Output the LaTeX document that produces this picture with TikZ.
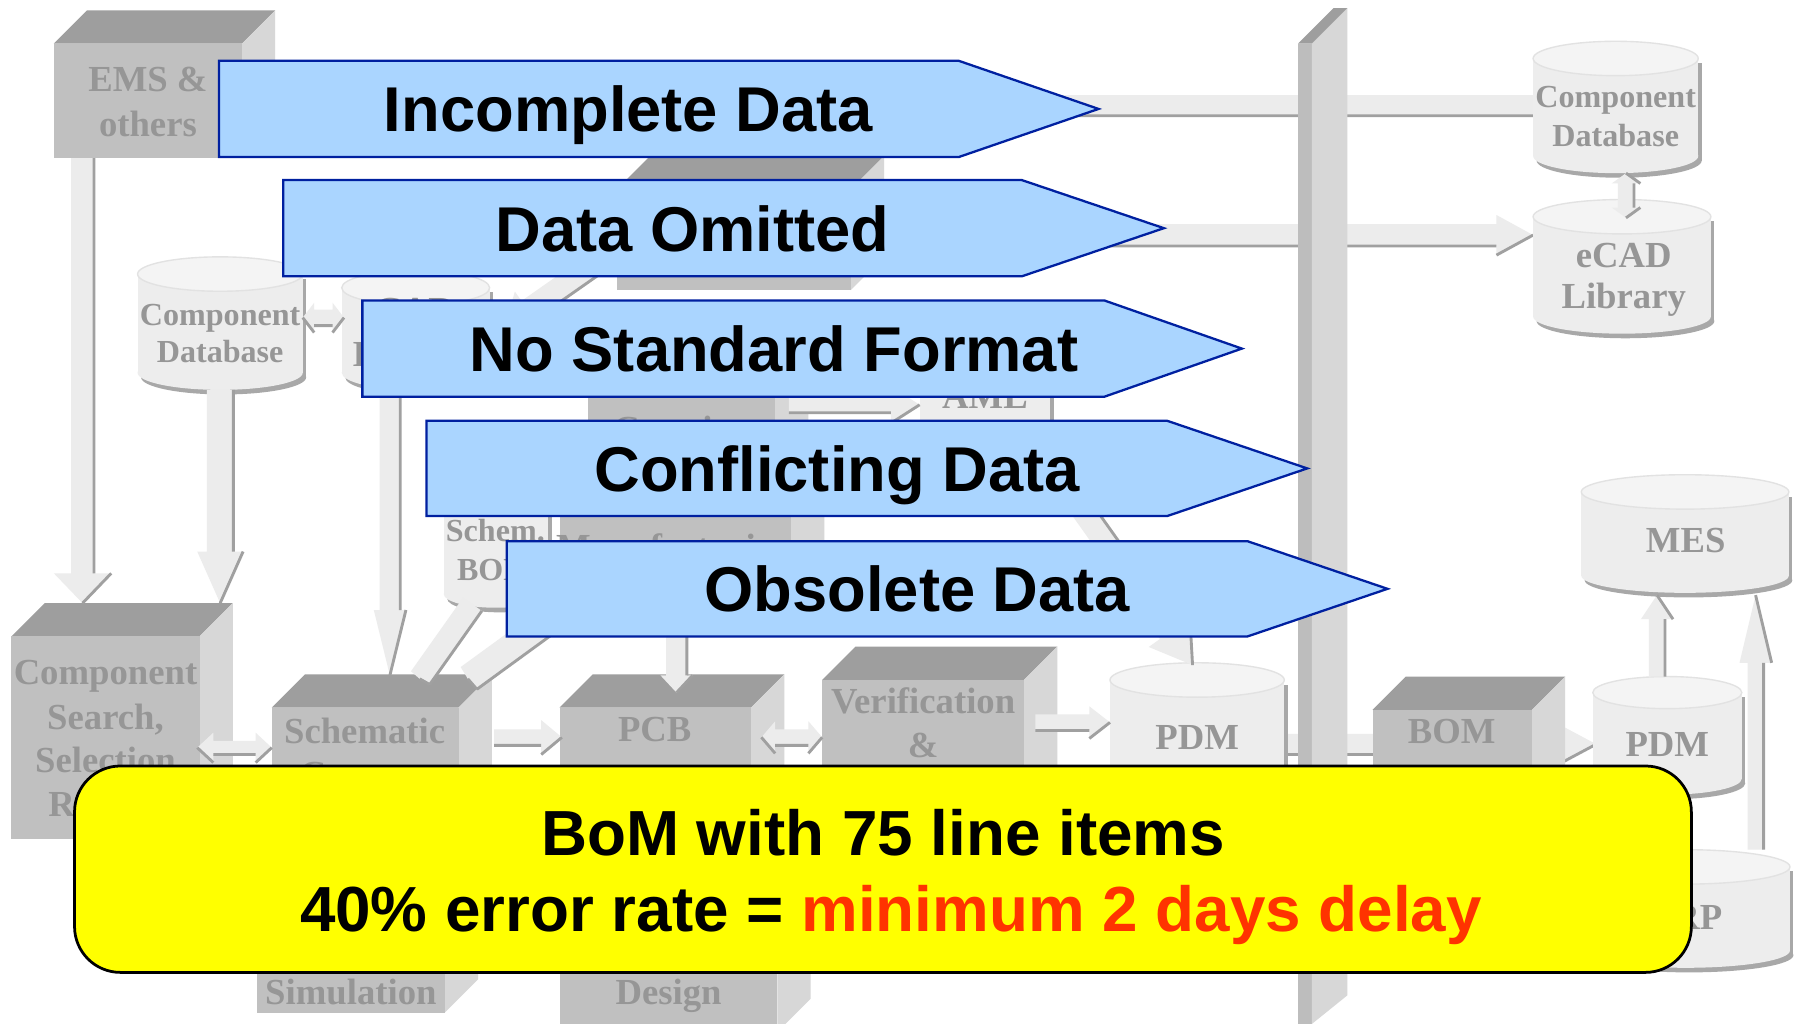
\documentclass[tikz,border=0pt]{standalone}
\usepackage{fontspec}
\setmainfont{Liberation Serif}
\newfontfamily\arialfont{Liberation Sans}
\usetikzlibrary{calc}

\definecolor{bfrontc}{RGB}{192,192,192}
\definecolor{btopc}{RGB}{158,158,158}
\definecolor{bsidec}{RGB}{215,215,215}
\definecolor{pilleft}{RGB}{189,189,189}
\definecolor{cylbodyc}{RGB}{237,237,237}
\definecolor{cyltopc}{RGB}{244,244,244}
\definecolor{cyledgec}{RGB}{226,226,226}
\definecolor{cylshadec}{RGB}{168,168,168}
\definecolor{arfillc}{RGB}{236,236,236}
\definecolor{arshadec}{RGB}{160,160,160}
\definecolor{bgtextc}{RGB}{150,150,150}
\definecolor{bluefillc}{RGB}{170,213,255}
\definecolor{bluelinec}{RGB}{0,32,160}
\definecolor{delayred}{RGB}{255,51,0}
\definecolor{noteyellow}{RGB}{255,255,0}

\tikzset{
  boxtop/.style={fill=btopc},
  boxside/.style={fill=bsidec},
  boxfront/.style={fill=bfrontc},
  arfill/.style={fill=arfillc},
  arshade/.style={draw=arshadec, line width=1.25pt},
  bgt/.style={anchor=base, inner sep=0pt, text=bgtextc, font=\bfseries\fontsize{16}{19}\selectfont},
  bgs/.style={anchor=base, inner sep=0pt, text=bgtextc, font=\bfseries\fontsize{14}{16}\selectfont},
  bluearr/.style={fill=bluefillc, draw=bluelinec, line width=1pt, line join=miter},
  bluelabel/.style={anchor=base, inner sep=0pt, font=\arialfont\bfseries\fontsize{27.6}{30}\selectfont},
  notebox/.style={fill=noteyellow, draw=black, line width=1.2pt, rounded corners=20pt, minimum width=705pt, minimum height=90pt, inner sep=0pt},
  notetext/.style={anchor=base, inner sep=0pt, font=\arialfont\bfseries\fontsize{27.8}{30}\selectfont}
}

% 3D box: name, x1, y1 (top), x2, y2 (bottom)
\newcommand{\tdbox}[5]{%
  \fill[boxtop] (#2,#3) -- (#2+29,#3-29) -- (#4+29,#3-29) -- (#4,#3) -- cycle;
  \fill[boxside] (#4,#3) -- (#4+29,#3-29) -- (#4+29,#5-29) -- (#4,#5) -- cycle;
  \fill[boxfront] (#2,#3) rectangle (#4,#5);
  \coordinate (#1) at ({(#2+#4)/2},{(#3+#5)/2});
}

% cylinder: name, x1, x2, ytop, ybot, ry
\newcommand{\tdcyl}[6]{%
  \begin{scope}[shift={(3,4)}]
    \fill[cylshadec] (#2,{#4+#6}) rectangle (#3,{#5-#6});
    \fill[cylshadec] ({(#2+#3)/2},{#5-#6}) ellipse [x radius={(#3-#2)/2}, y radius=#6];
  \end{scope}
  \fill[cylbodyc] (#2,{#4+#6}) rectangle (#3,{#5-#6});
  \fill[cylbodyc] ({(#2+#3)/2},{#5-#6}) ellipse [x radius={(#3-#2)/2}, y radius=#6];
  \filldraw[fill=cyltopc, draw=cyledgec, line width=0.6pt] ({(#2+#3)/2},{#4+#6}) ellipse [x radius={(#3-#2)/2}, y radius=#6];
  \coordinate (#1) at ({(#2+#3)/2},{(#4+#5)/2});
}

% block arrow: start, end, half shaft, half head, head length, shadow side angle, other angle
\newcommand{\barrow}[7]{%
  \coordinate (bs) at (#1);
  \coordinate (be) at (#2);
  \coordinate (bh) at ($(be)!{#5*0.5pt}!(bs)$);
  \fill[arfill] ($(bs)!{#3*0.5pt}!#6:(be)$) -- ($(bh)!{#3*0.5pt}!#6:(be)$) -- ($(bh)!{#4*0.5pt}!#6:(be)$) -- (be) -- ($(bh)!{#4*0.5pt}!#7:(be)$) -- ($(bh)!{#3*0.5pt}!#7:(be)$) -- ($(bs)!{#3*0.5pt}!#7:(be)$) -- cycle;
  \draw[arshade] ($(bs)!{#3*0.5pt}!#6:(be)$) -- ($(bh)!{#3*0.5pt}!#6:(be)$) ($(bh)!{#4*0.5pt}!#6:(be)$) -- (be);
}

% double block arrow
\newcommand{\dbarrow}[7]{%
  \coordinate (da) at (#1);
  \coordinate (db) at (#2);
  \coordinate (dha) at ($(da)!{#5*0.5pt}!(db)$);
  \coordinate (dhb) at ($(db)!{#5*0.5pt}!(da)$);
  \fill[arfill] (da) -- ($(dha)!{#4*0.5pt}!#6:(db)$) -- ($(dha)!{#3*0.5pt}!#6:(db)$) -- ($(dhb)!{#3*0.5pt}!#6:(db)$) -- ($(dhb)!{#4*0.5pt}!#6:(db)$) -- (db) -- ($(dhb)!{#4*0.5pt}!#7:(db)$) -- ($(dhb)!{#3*0.5pt}!#7:(db)$) -- ($(dha)!{#3*0.5pt}!#7:(db)$) -- ($(dha)!{#4*0.5pt}!#7:(db)$) -- cycle;
  \draw[arshade] ($(dha)!{#3*0.5pt}!#6:(db)$) -- ($(dhb)!{#3*0.5pt}!#6:(db)$) ($(dhb)!{#4*0.5pt}!#6:(db)$) -- (db) (da) -- ($(dha)!{#4*0.5pt}!#6:(db)$);
}

% blue pentagon arrow: name, xleft, ytop, ybot, xrect, xtip, textx, text
\newcommand{\bluearrow}[8]{%
  \draw[bluearr] (#2,#3) -- (#5,#3) -- (#6,{(#3+#4)/2}) -- (#5,#4) -- (#2,#4) -- cycle;
  \node[bluelabel] (#1) at (#7,{(#3+#4)/2+20}) {#8};
}

\begin{document}
\begin{tikzpicture}[x=0.5pt,y=-0.5pt]
\useasboundingbox (0,0) rectangle (1568,893);
\clip (0,0) rectangle (1568,893);
\fill[white] (0,0) rectangle (1568,893);

% long bands behind the pillar
\barrow{240,92}{1340,92}{9}{9}{1}{-90}{90}
\barrow{772,205}{1337,205}{9.5}{17.5}{32}{-90}{90}
\barrow{1120,649}{1392,649}{9}{16}{30}{-90}{90}

% pillar
\fill[pilleft] (1132,38) rectangle (1144,893);
\fill[boxside] (1144,38) -- (1175,7) -- (1175,868) -- (1144,893) -- cycle;
\fill[boxtop] (1132,38) -- (1144,38) -- (1175,7) -- (1163,7) -- cycle;

% boxes
\tdbox{ems}{47}{38}{211}{138}
\tdbox{topbox}{538}{165}{742}{253}
\tdbox{creation}{513}{300}{676}{410}
\tdbox{manuf}{488}{440}{690}{540}
\tdbox{csearch}{10}{555}{174}{732}
\tdbox{schem}{237}{617}{400}{760}
\tdbox{pcb}{488}{617}{655}{760}
\tdbox{verif}{717}{593}{893}{760}
\tdbox{bom}{1197}{619}{1336}{760}
\tdbox{simul}{224}{790}{388}{883}
\tdbox{design}{488}{790}{678}{900}

% cylinders
\tdcyl{cdbl}{120}{264}{224}{340}{15}
\tdcyl{cad}{298}{427}{236}{340}{15}
\tdcyl{aml}{802}{916}{280}{400}{14}
\tdcyl{sbom}{387}{478}{400}{530}{12}
\tdcyl{pdmm}{968}{1120}{578}{760}{15}
\tdcyl{cdbr}{1337}{1481}{36}{151}{15}
\tdcyl{ecad}{1337}{1492}{174}{291}{15}
\tdcyl{mes}{1379}{1560}{414}{517}{15}
\tdcyl{pdmr}{1389}{1519}{590}{693}{14}
\tdcyl{erp}{1379}{1561}{741}{844}{15}

% background labels
\node[bgt] (t-ems1) at (129,80) {EMS \&};
\node[bgt] (t-ems2) at (129,119) {others};
\node[bgs] (t-cdbl1) at (192,284) {Component};
\node[bgs] (t-cdbl2) at (192,316) {Database};
\node[bgt] (t-cad1) at (362,281) {CAD};
\node[bgt] (t-cad2) at (362,320) {Library};
\node[bgt] (t-crea) at (595,385) {Creation};
\node[bgt] (t-aml) at (859,356) {AML};
\node[bgt] (t-manuf) at (589,488) {Manufacturing};
\node[bgs] (t-sbom1) at (432,472) {Schem.};
\node[bgs] (t-sbom2) at (432,506) {BOM};
\node[bgt] (t-cs1) at (92,597) {Component};
\node[bgt] (t-cs2) at (92,636) {Search,};
\node[bgt] (t-cs3) at (92,674) {Selection};
\node[bgt] (t-cs4) at (92,712) {Review};
\node[bgt] (t-sch1) at (318,648) {Schematic};
\node[bgt] (t-sch2) at (318,686) {Capture};
\node[bgt] (t-pcb) at (571,647) {PCB};
\node[bgt] (t-ver1) at (805,622) {Verification};
\node[bgt] (t-ver2) at (805,661) {\&};
\node[bgt] (t-pdmm) at (1044,654) {PDM};
\node[bgt] (t-bom) at (1266,648) {BOM};
\node[bgt] (t-pdmr) at (1454,660) {PDM};
\node[bgt] (t-mes) at (1470,482) {MES};
\node[bgt] (t-erp) at (1470,811) {ERP};
\node[bgs] (t-cdbr1) at (1409,94) {Component};
\node[bgs] (t-cdbr2) at (1409,128) {Database};
\node[bgt] (t-ecad1) at (1416,233) {eCAD};
\node[bgt] (t-ecad2) at (1416,269) {Library};
\node[bgt] (t-sim) at (306,876) {Simulation};
\node[bgt] (t-des) at (583,876) {Design};

% background arrows
\barrow{72,138}{72,526}{10}{25}{26}{90}{-90}
\barrow{192,340}{192,526}{11.5}{20}{45}{90}{-90}
\barrow{340,340}{340,589}{9}{14}{57}{90}{-90}
\dbarrow{264,277}{300,277}{7}{13}{10}{-90}{90}
\barrow{540,215}{440,285}{10}{20}{25}{90}{-90}
\barrow{688,353}{802,353}{7}{16}{25}{-90}{90}
\barrow{905,390}{1040,580}{10}{22}{35}{90}{-90}
\barrow{590,540}{590,604}{9}{14}{15}{90}{-90}
\barrow{412,527}{366,592}{10}{10}{1}{90}{-90}
\barrow{500,525}{408,592}{12}{12}{1}{90}{-90}
\dbarrow{172,652}{237,652}{6}{13}{14}{-90}{90}
\barrow{431,643}{490,643}{7}{15}{18}{-90}{90}
\dbarrow{664,643}{717,643}{7}{14}{12}{-90}{90}
\barrow{903,630}{968,630}{7}{14}{18}{-90}{90}
\barrow{1445,590}{1445,519}{7}{14}{21}{-90}{90}
\barrow{1531,741}{1531,519}{7}{14}{59}{-90}{90}
\dbarrow{1418,151}{1418,190}{7}{12.5}{9}{90}{-90}

% problem arrows
\bluearrow{inc}{191}{53}{137}{836}{958}{548}{Incomplete Data}
\bluearrow{omit}{247}{157}{241}{891}{1015}{604}{Data Omitted}
\bluearrow{nsf}{316}{262}{346}{963}{1083}{675}{No Standard Format}
\bluearrow{conf}{372}{367}{450}{1018}{1140}{730}{Conflicting Data}
\bluearrow{obs}{442}{472}{555}{1088}{1210}{800}{Obsolete Data}

% note
\node[notebox] (note) at (770,758) {};
\node[notetext] (note1) at (770,746) {BoM with 75 line items};
\node[notetext] (note2) at (777,812) {40\% error rate = \textcolor{delayred}{minimum 2 days delay}};
\end{tikzpicture}
\end{document}
